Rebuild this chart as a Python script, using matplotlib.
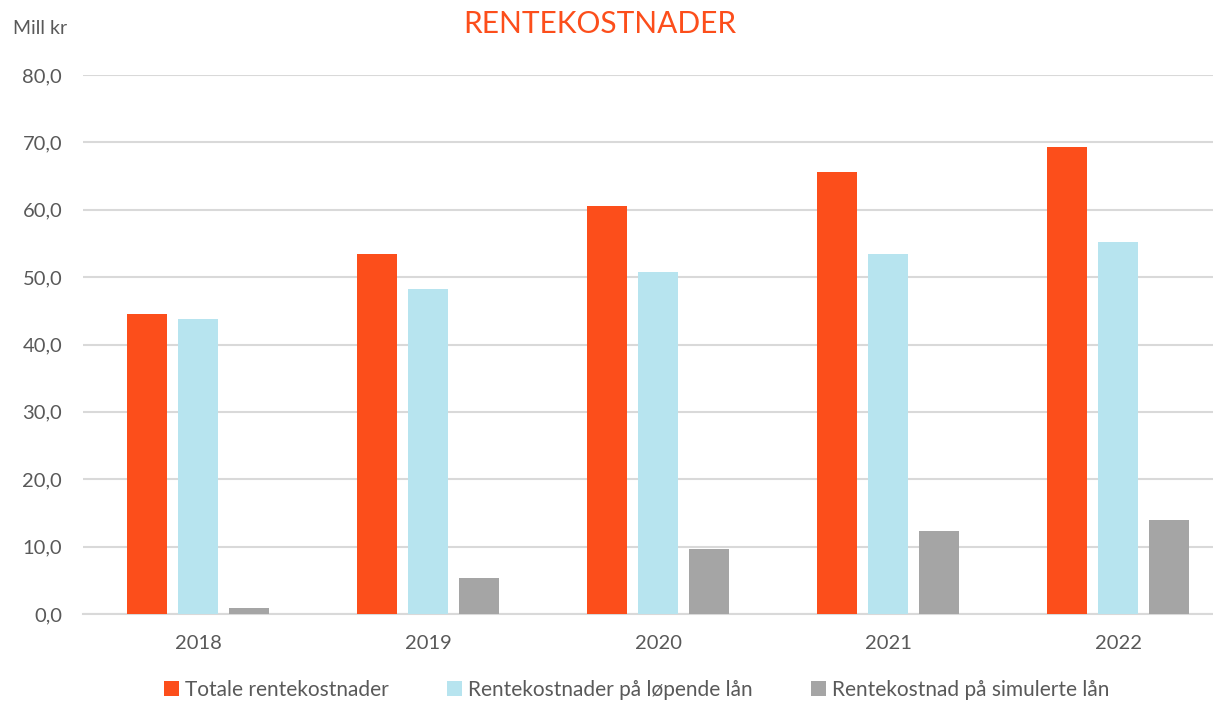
import numpy as np
import matplotlib.pyplot as plt
from matplotlib.ticker import FuncFormatter

# Data
years = ['2018', '2019', '2020', '2021', '2022']
totale = [44.6, 53.5, 60.5, 65.6, 69.3]
lopende = [43.8, 48.2, 50.8, 53.5, 55.2]
simulerte = [0.9, 5.4, 9.7, 12.3, 13.9]
series_names = ['Totale rentekostnader', 'Rentekostnader på løpende lån',
                'Rentekostnad på simulerte lån']

colors = ['#FC4E1B', '#B7E4EF', '#A5A5A5']
txt = '#595959'

plt.rcParams['font.family'] = ['Lato', 'DejaVu Sans']

fig = plt.figure(figsize=(12.13, 7.03), dpi=100)
W, H = 1213, 703
ax = fig.add_axes([83 / W, 1 - 614 / H, 1 - 83 / W, (614 - 75) / H])

x = np.arange(len(years))
cat_px = 230.0
bw = 40 / cat_px
pitch = 51 / cat_px
for i, vals in enumerate([totale, lopende, simulerte]):
    ax.bar(x + (i - 1) * pitch, vals, width=bw, color=colors[i],
           label=series_names[i], zorder=3)

ax.set_ylim(0, 80)
ax.set_xlim(-0.5, (W - 83) / cat_px - 0.5)
ax.set_yticks(np.arange(0, 81, 10))
ax.yaxis.set_major_formatter(FuncFormatter(lambda v, p: f'{v:.1f}'.replace('.', ',')))
ax.set_xticks(x)
ax.set_xticklabels(years)
ax.grid(axis='y', color='#D9D9D9', linewidth=1.5, zorder=0)
for s in ['top', 'right', 'left']:
    ax.spines[s].set_visible(False)
ax.spines['bottom'].set_color('#D9D9D9')
ax.spines['bottom'].set_linewidth(1.5)
ax.tick_params(axis='both', length=0, labelsize=14.5, colors=txt)
ax.tick_params(axis='y', pad=15)
ax.tick_params(axis='x', pad=15)

fig.text(600 / W, 1 - 24 / H, 'RENTEKOSTNADER', color='#FC4E1B', fontsize=21.5,
         ha='center', va='center')
fig.text(13 / W, 1 - 28 / H, 'Mill kr', color=txt, fontsize=14, ha='left', va='center')

leg = fig.legend(loc='center', bbox_to_anchor=(0.525, 1 - 690 / H), ncol=3,
                 frameon=False, fontsize=15, handlelength=0.7, handleheight=0.7,
                 handletextpad=0.3, columnspacing=2.8)
for t in leg.get_texts():
    t.set_color(txt)

fig.savefig('out.png', dpi=100)
